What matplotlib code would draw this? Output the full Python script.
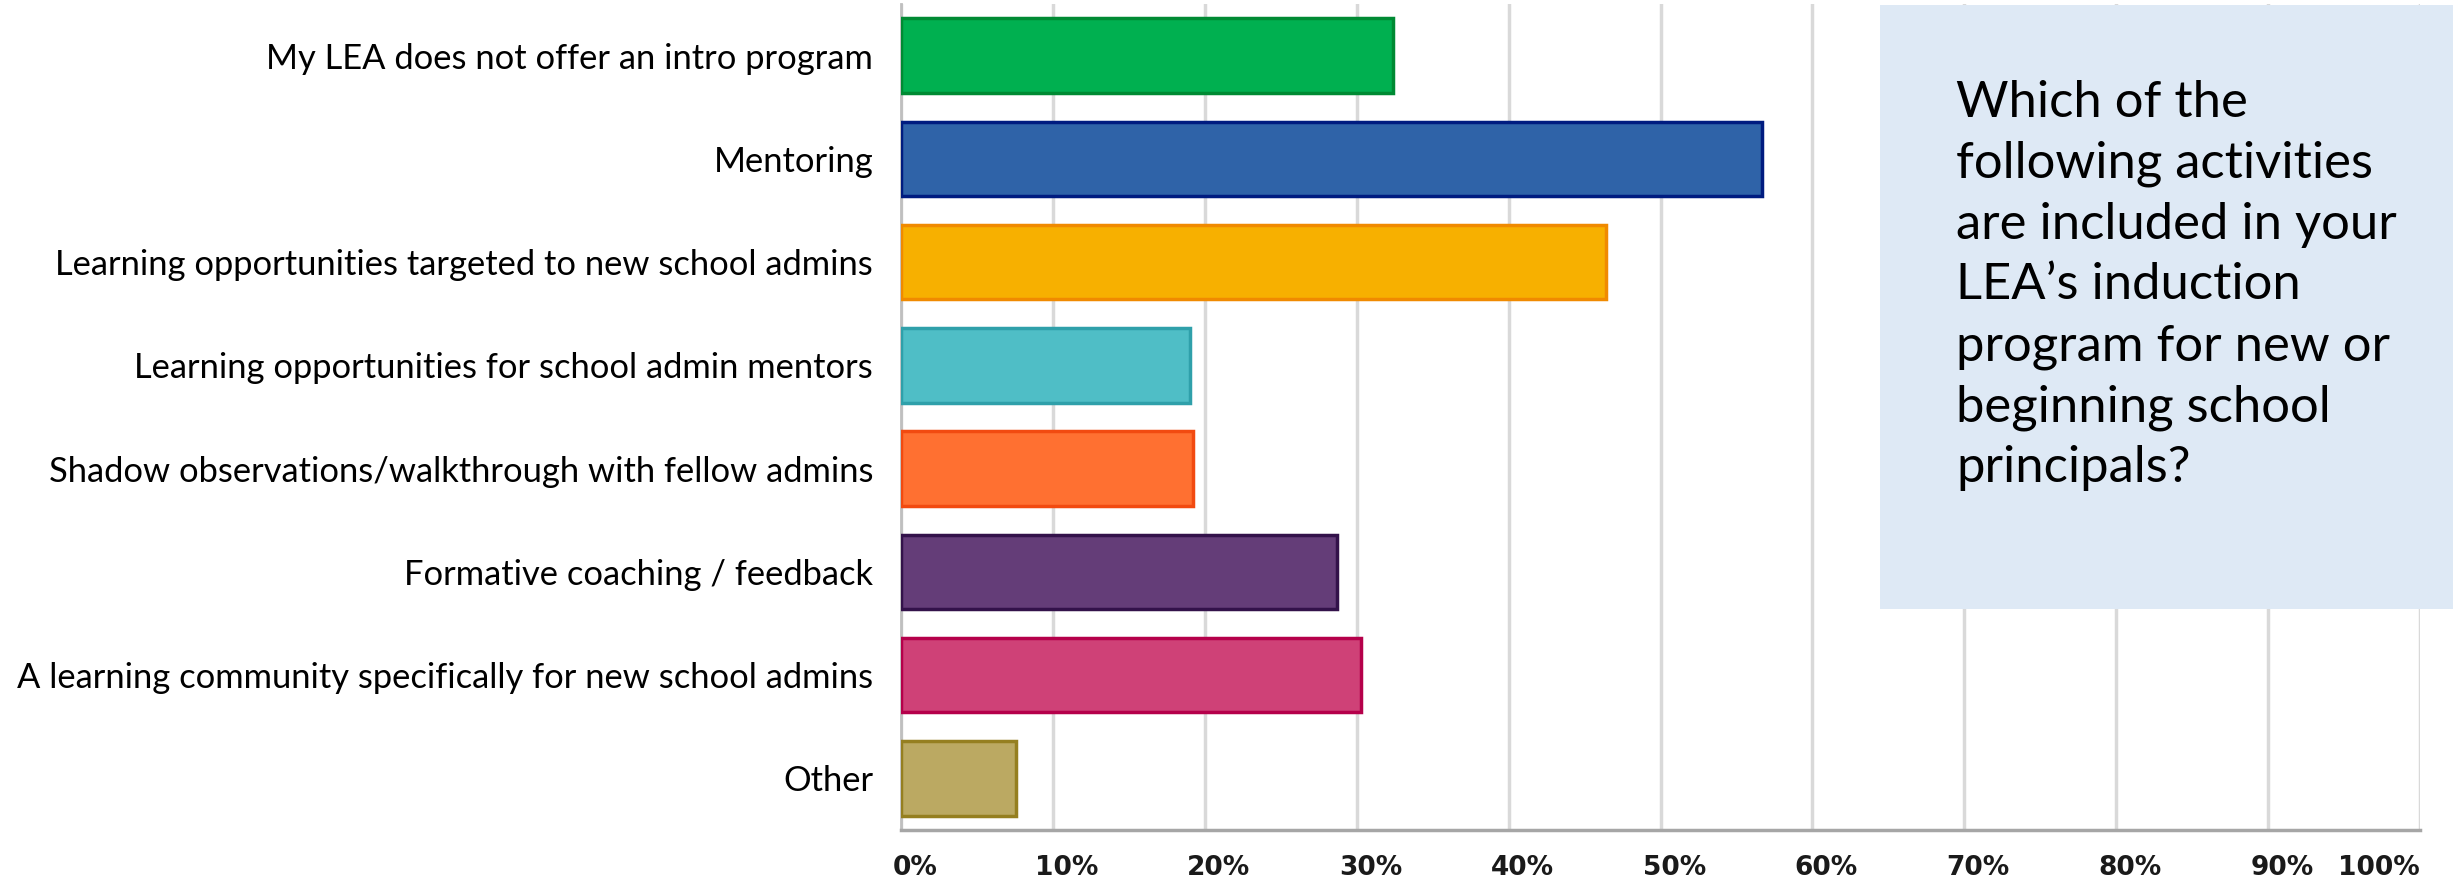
import matplotlib
matplotlib.use("Agg")
import matplotlib.pyplot as plt
from matplotlib.patches import Rectangle
from matplotlib.transforms import ScaledTranslation

categories = [
    "My LEA does not offer an intro program",
    "Mentoring",
    "Learning opportunities targeted to new school admins",
    "Learning opportunities for school admin mentors",
    "Shadow observations/walkthrough with fellow admins",
    "Formative coaching / feedback",
    "A learning community specifically for new school admins",
    "Other",
]
values = [32.4, 56.7, 46.4, 19.0, 19.2, 28.7, 30.3, 7.6]
face_colors = ["#00B050", "#2F63A8", "#F7B000", "#4FBEC6", "#FF7031", "#643D78", "#CF4177", "#BBA962"]
edge_colors = ["#008A33", "#001C80", "#F08A00", "#2FA0AA", "#F24A10", "#33124A", "#B5004A", "#957F20"]
tick_values = [0, 10, 20, 30, 40, 50, 60, 70, 80, 90, 100]
tick_labels = ["0%", "10%", "20%", "30%", "40%", "50%", "60%", "70%", "80%", "90%", "100%"]
question_lines = [
    "Which of the",
    "following activities",
    "are included in your",
    "LEA\u2019s induction",
    "program for new or",
    "beginning school",
    "principals?",
]

W, H, DPI = 2453, 880, 100
fig = plt.figure(figsize=(W / DPI, H / DPI), dpi=DPI)
fig.patch.set_facecolor("white")

ax = fig.add_axes([901 / W, 1 - 830 / H, (2420 - 901) / W, (830 - 4) / H])
ypos = list(range(len(categories)))
ax.barh(ypos, values, height=0.72, color=face_colors, edgecolor=edge_colors,
        linewidth=2.5, zorder=3)
ax.set_xlim(0, 100)
ax.set_ylim(len(categories) - 0.5, -0.5)

ax.set_yticks(ypos)
ax.set_yticklabels(categories, fontsize=24.8, family=["Lato", "DejaVu Sans"])
ax.tick_params(axis="y", length=0, pad=20)

ax.set_xticks(tick_values)
ax.set_xticklabels(tick_labels, fontsize=19, fontweight="bold", family=["DejaVu Sans"],
                   color="#1a1a1a")
ax.tick_params(axis="x", length=0, pad=18)
for i, lab in enumerate(ax.get_xticklabels()):
    if i == len(tick_values) - 1:
        lab.set_ha("right")
    else:
        lab.set_transform(lab.get_transform() + ScaledTranslation(14 / DPI, 0, fig.dpi_scale_trans))

ax.grid(axis="x", color="#D9D9D9", linewidth=2.5, zorder=0)
ax.set_axisbelow(True)
for s in ["top", "right"]:
    ax.spines[s].set_visible(False)
ax.spines["left"].set_color("#BFBFBF")
ax.spines["left"].set_linewidth(2)
ax.spines["bottom"].set_color("#A6A6A6")
ax.spines["bottom"].set_linewidth(2.5)

# question box
box = Rectangle((1880 / W, 1 - 609 / H), (W - 1880) / W, (609 - 5) / H,
                transform=fig.transFigure, facecolor="#DEE9F5", edgecolor="none", zorder=5)
fig.add_artist(box)
for i, line in enumerate(question_lines):
    yb = 117 + i * 60.8
    fig.text(1956 / W, 1 - yb / H, line, fontsize=36.5, family=["Lato", "DejaVu Sans"],
             va="baseline", ha="left", color="black", zorder=6)

fig.savefig("out.png", dpi=DPI)
